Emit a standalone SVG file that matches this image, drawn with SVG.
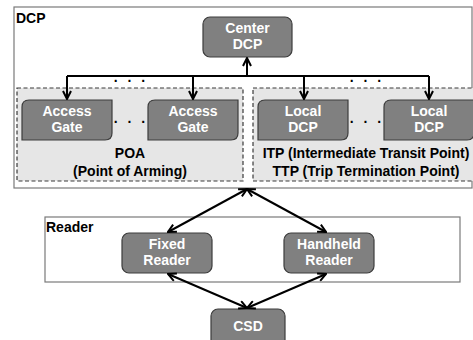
<svg xmlns="http://www.w3.org/2000/svg" width="473" height="340" viewBox="0 0 473 340">
  <style>
    .frame { fill: #ffffff; stroke: #7a7a7a; stroke-width: 1.2; }
    .zone { fill: #e6e6e6; stroke: #3a3a3a; stroke-width: 1.2; stroke-dasharray: 4 2.5; }
    .node { fill: #808080; stroke: #3c3c3c; stroke-width: 1.2; }
    .nt { font-family: "Liberation Sans", Arial, sans-serif; font-weight: bold; font-size: 14px; fill: #ffffff; text-anchor: middle; }
    .lbl { font-family: "Liberation Sans", Arial, sans-serif; font-weight: bold; font-size: 14px; fill: #000000; }
    .ct { text-anchor: middle; }
    .dots { font-family: "Liberation Sans", Arial, sans-serif; font-weight: bold; font-size: 14px; fill: #000000; text-anchor: middle; letter-spacing: 3px; }
    .wire { fill: none; stroke: #000000; stroke-width: 2; }
  </style>
  <defs>
    <marker id="arr" viewBox="0 0 10 10" refX="9" refY="5" markerWidth="5" markerHeight="5" orient="auto-start-reverse" markerUnits="strokeWidth">
      <path d="M1,1 L9,5 L1,9" fill="none" stroke="#000" stroke-width="2"/>
    </marker>
  </defs>

  <!-- outer groups -->
  <g id="dcp-frame">
    <rect class="frame" x="14" y="7" width="458" height="181"/>
    <text class="lbl" x="16" y="23">DCP</text>
  </g>
  <g id="poa-zone">
    <rect class="zone" x="17" y="88" width="226" height="93"/>
    <text class="lbl ct" x="130" y="158">POA</text>
    <text class="lbl ct" x="130" y="176">(Point of Arming)</text>
  </g>
  <g id="itp-zone">
    <rect class="zone" x="253" y="88" width="222" height="93"/>
    <text class="lbl ct" x="366" y="158">ITP (Intermediate Transit Point)</text>
    <text class="lbl ct" x="366" y="176">TTP (Trip Termination Point)</text>
  </g>
  <g id="reader-frame">
    <rect class="frame" x="45" y="217" width="415" height="65"/>
    <text class="lbl" x="46" y="232">Reader</text>
  </g>

  <!-- nodes -->
  <g id="center-dcp">
    <rect class="node" x="203" y="17" width="89" height="40" rx="7"/>
    <text class="nt" x="247.5" y="33">Center</text>
    <text class="nt" x="247.5" y="49">DCP</text>
  </g>
  <g id="access-gate-1">
    <path class="node" d="M29,100 H112 V133 Q112,140 105,140 H22 V107 Q22,100 29,100 Z"/>
    <text class="nt" x="67" y="116">Access</text>
    <text class="nt" x="67" y="132">Gate</text>
  </g>
  <g id="access-gate-2">
    <path class="node" d="M155,100 H238 V133 Q238,140 231,140 H148 V107 Q148,100 155,100 Z"/>
    <text class="nt" x="193" y="116">Access</text>
    <text class="nt" x="193" y="132">Gate</text>
  </g>
  <g id="local-dcp-1">
    <path class="node" d="M265,100 H348 V133 Q348,140 341,140 H258 V107 Q258,100 265,100 Z"/>
    <text class="nt" x="303" y="116">Local</text>
    <text class="nt" x="303" y="132">DCP</text>
  </g>
  <g id="local-dcp-2">
    <path class="node" d="M391,100 H474 V133 Q474,140 467,140 H384 V107 Q384,100 391,100 Z"/>
    <text class="nt" x="429" y="116">Local</text>
    <text class="nt" x="429" y="132">DCP</text>
  </g>
  <g id="fixed-reader">
    <rect class="node" x="122" y="233" width="90" height="40" rx="7"/>
    <text class="nt" x="167" y="249">Fixed</text>
    <text class="nt" x="167" y="265">Reader</text>
  </g>
  <g id="handheld-reader">
    <rect class="node" x="284" y="233" width="90" height="40" rx="7"/>
    <text class="nt" x="329" y="249">Handheld</text>
    <text class="nt" x="329" y="265">Reader</text>
  </g>
  <g id="csd">
    <rect class="node" x="211" y="309" width="74" height="40" rx="7"/>
    <text class="nt" x="248" y="331">CSD</text>
  </g>

  <!-- ellipses between repeated nodes -->
  <g id="ellipses">
    <text class="dots" x="131" y="82">. . .</text>
    <text class="dots" x="367" y="82">. . .</text>
    <text class="dots" x="131" y="123">. . .</text>
    <text class="dots" x="367" y="123">. . .</text>
  </g>

  <!-- connectors -->
  <g id="connectors">
    <path class="wire" d="M247,76 V58" marker-end="url(#arr)"/>
    <path class="wire" d="M67,76 H429"/>
    <path class="wire" d="M67,76 V99" marker-end="url(#arr)"/>
    <path class="wire" d="M193,76 V99" marker-end="url(#arr)"/>
    <path class="wire" d="M304,76 V99" marker-end="url(#arr)"/>
    <path class="wire" d="M429,76 V99" marker-end="url(#arr)"/>
    <path class="wire" d="M247,189 L168,232" marker-start="url(#arr)" marker-end="url(#arr)"/>
    <path class="wire" d="M247,189 L326,232" marker-start="url(#arr)" marker-end="url(#arr)"/>
    <path class="wire" d="M168,274 L247,308" marker-start="url(#arr)" marker-end="url(#arr)"/>
    <path class="wire" d="M326,274 L247,308" marker-start="url(#arr)" marker-end="url(#arr)"/>
  </g>
</svg>
